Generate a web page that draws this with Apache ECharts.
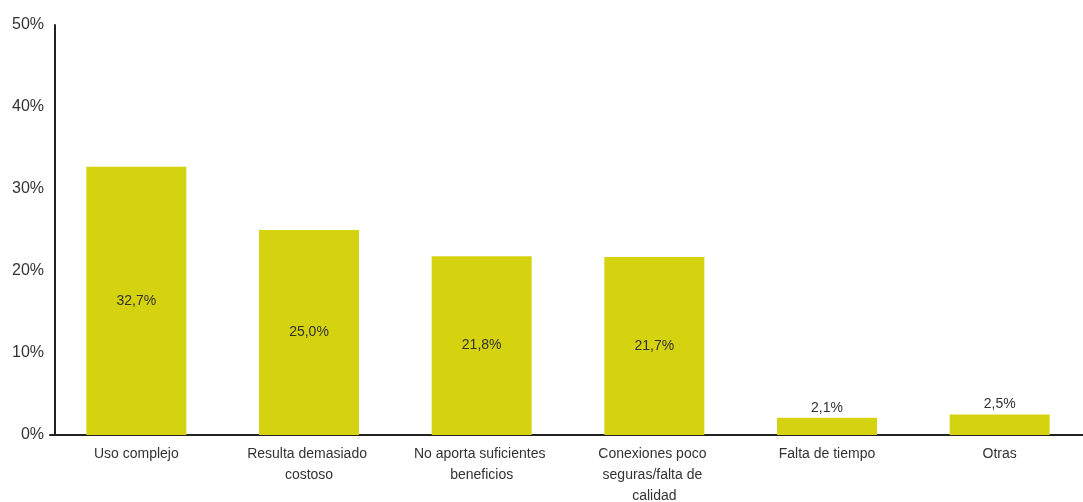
<!DOCTYPE html>
<html>
<head>
<meta charset="utf-8">
<script src="https://cdn.jsdelivr.net/npm/echarts@6/dist/echarts.min.js"></script>
<style>
html,body{margin:0;padding:0;background:#fff;}
#chart{width:1083px;height:502px;}
</style>
</head>
<body>
<div id="chart"></div>
<script>
var categories = ['Uso complejo', 'Resulta demasiado costoso', 'No aporta suficientes beneficios',
    'Conexiones poco seguras/falta de calidad', 'Falta de tiempo', 'Otras'];
var values = [32.7, 25.0, 21.8, 21.7, 2.1, 2.5];
var yTicks = [0, 10, 20, 30, 40, 50];

var font = '"Liberation Sans", Arial, sans-serif';

var myChart = echarts.init(document.getElementById('chart'));
var option = {
    animation: false,
    grid: {left: 50, top: 25, width: 1036, bottom: 67, containLabel: false, outerBoundsMode: 'none'},
    xAxis: {
        type: 'category',
        data: categories,
        axisLine: {lineStyle: {color: '#222', width: 2}},
        axisTick: {show: false},
        axisLabel: {
            color: '#333', fontSize: 14, fontFamily: font, margin: 9,
            lineHeight: 21, width: 140, overflow: 'break', interval: 0
        }
    },
    yAxis: {
        type: 'value',
        min: yTicks[0],
        max: yTicks[yTicks.length - 1],
        interval: 10,
        offset: -5,
        splitLine: {show: false},
        axisTick: {show: false},
        axisLine: {show: true, lineStyle: {color: '#222', width: 2}},
        axisLabel: {color: '#333', fontSize: 16, fontFamily: font, margin: 11, formatter: '{value}%'}
    },
    series: [{
        type: 'bar',
        barWidth: 100,
        itemStyle: {color: '#d5d20f'},
        data: values.map(function (v) {
            return {value: v, label: {position: v > 10 ? 'inside' : 'top'}};
        }),
        label: {
            show: true, color: '#333', fontSize: 14, fontFamily: font, distance: 3,
            formatter: function (p) { return p.value.toFixed(1).replace('.', ',') + '%'; }
        }
    }]
};
myChart.setOption(option);
</script>
</body>
</html>
